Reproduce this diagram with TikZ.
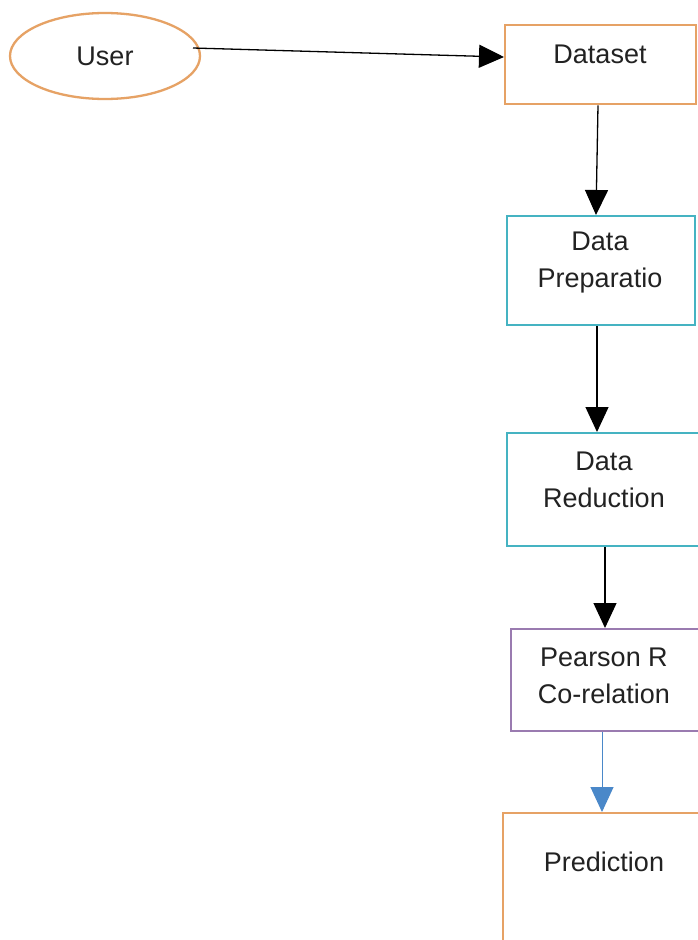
\documentclass[tikz,border=0pt]{standalone}
\usepackage{fontspec}
\setmainfont{Liberation Sans}
\usetikzlibrary{arrows.meta,shapes.geometric}
\definecolor{orangeb}{HTML}{E6A265}
\definecolor{cyanb}{HTML}{45B3C2}
\definecolor{purpleb}{HTML}{9A7BB0}
\definecolor{bluea}{HTML}{4A88C9}
\definecolor{txt}{HTML}{222222}
\tikzset{
  box/.style={draw, line width=2.3pt, fill=white, anchor=north west, inner sep=0pt},
  lbl/.style={text=txt, align=center, font=\fontsize{27}{37}\selectfont},
  conn/.style={line width=1.3pt, -{Triangle[length=25pt,width=23pt]}},
}
\begin{document}
\begin{tikzpicture}[x=1pt,y=-1pt]
\useasboundingbox (0,0) rectangle (698,940);
\fill[white] (0,0) rectangle (698,940);
\clip (0,0) rectangle (698,940);
\node[draw=orangeb, line width=2.3pt, ellipse, minimum width=190pt, minimum height=86pt, lbl] (user) at (105,56) {User};
\node[box, draw=orangeb, minimum width=191pt, minimum height=79pt] (dataset) at (504,24) {};
\node[lbl] (dst) at (600,54) {Dataset};
\node[box, draw=cyanb, minimum width=188pt, minimum height=109pt] (prep) at (506,215) {};
\node[lbl] (prept) at (600,263) {Data\\Preparatio};
\node[box, draw=cyanb, minimum width=196pt, minimum height=113pt] (red) at (506,432) {};
\node[lbl] (redt) at (604,480) {Data\\Reduction};
\node[box, draw=purpleb, minimum width=188pt, minimum height=102pt] (pear) at (510,628) {};
\node[lbl] (peart) at (604,676) {Pearson R\\Co-relation};
\node[box, draw=orangeb, minimum width=210pt, minimum height=140pt] (pred) at (502,812) {};
\node[lbl] (predt) at (604,862) {Prediction};
\coordinate (a1) at (193,48);
\draw[conn] (a1) -- (dataset.west |- 0,57);
\draw[conn] (dataset.south -| 598,0) -- (prep.north -| 596,0);
\draw[conn] (prep.south -| 597,0) -- (red.north -| 597,0);
\draw[conn] (red.south -| 605,0) -- (pear.north -| 605,0);
\draw[conn, draw=bluea, fill=bluea, line width=1pt] (pear.south -| 602,0) -- (pred.north -| 602,0);
\end{tikzpicture}
\end{document}
